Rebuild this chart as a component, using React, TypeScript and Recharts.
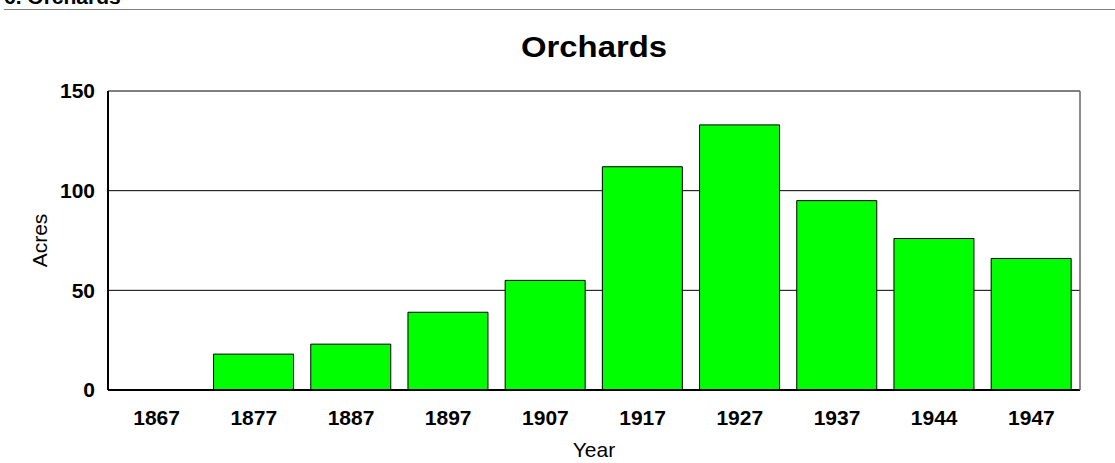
import React from 'react';
import { BarChart, Bar, XAxis, YAxis, CartesianGrid, Label } from 'recharts';

const years = ['1867', '1877', '1887', '1897', '1907', '1917', '1927', '1937', '1944', '1947'];
const acres = [0, 18, 23, 39, 55, 112, 133, 95, 76, 66];
const yTicks = [0, 50, 100, 150];

const headerText = '6. Orchards';
const chartTitle = 'Orchards';
const xTitle = 'Year';
const yTitle = 'Acres';

const data = years.map((y, i) => ({ year: y, acres: acres[i] }));

const FONT = '"Liberation Sans", Arial, Helvetica, sans-serif';

const YLabel = (props: any) => {
  const vb = props.viewBox || { x: 0, y: 91, width: 108, height: 299 };
  const cx = vb.x + 39;
  const cy = vb.y + vb.height / 2;
  return (
    <text
      x={cx}
      y={cy}
      transform={`rotate(-90, ${cx}, ${cy})`}
      textAnchor="middle"
      dominantBaseline="central"
      fontFamily={FONT}
      fontSize={21}
      fill="#000"
    >
      {yTitle}
    </text>
  );
};

export default function App() {
  return (
    <div style={{ position: 'absolute', left: 0, top: 0, width: 1115, height: 463, background: '#fff' }}>
      <BarChart
        width={1115}
        height={463}
        data={data}
        margin={{ top: 91, right: 34, left: 0, bottom: 0 }}
        barCategoryGap="8.6%"
      >
        <CartesianGrid vertical={false} stroke="#000" strokeWidth={1} />
        <XAxis
          dataKey="year"
          height={73}
          tickLine={false}
          tickSize={6}
          tickMargin={14}
          axisLine={{ stroke: '#000', strokeWidth: 2 }}
          tick={{ fontFamily: FONT, fontSize: 21, fontWeight: 'bold', fill: '#000' }}
          interval={0}
        >
          <Label value={xTitle} position="insideBottom" offset={6} style={{ fontFamily: FONT, fontSize: 21, fill: '#000' }} />
        </XAxis>
        <YAxis
          width={108}
          domain={[0, 150]}
          ticks={yTicks}
          tickLine={false}
          tickSize={6}
          tickMargin={7}
          axisLine={{ stroke: '#000', strokeWidth: 2 }}
          tick={{ fontFamily: FONT, fontSize: 21, fontWeight: 'bold', fill: '#000' }}
          interval={0}
        >
          <Label content={YLabel} />
        </YAxis>
        <YAxis
          yAxisId="right"
          orientation="right"
          width={1}
          domain={[0, 150]}
          tick={false}
          tickLine={false}
          axisLine={{ stroke: '#666', strokeWidth: 1.5 }}
        />
        <Bar dataKey="acres" fill="#00ff00" stroke="#000" strokeWidth={1} isAnimationActive={false} />
      </BarChart>
      <svg
        width={1115}
        height={463}
        style={{ position: 'absolute', left: 0, top: 0, pointerEvents: 'none' }}
      >
        <text x={4} y={4} fontFamily={FONT} fontSize={21} fontWeight="bold" fill="#000">
          {headerText}
        </text>
        <line x1={4} x2={1115} y1={9.5} y2={9.5} stroke="#808080" strokeWidth={1} />
        <text
          x={594}
          y={56.7}
          textAnchor="middle"
          fontFamily={FONT}
          fontSize={29}
          fontWeight="bold"
          fill="#000"
          textLength={146}
          lengthAdjust="spacingAndGlyphs"
        >
          {chartTitle}
        </text>
      </svg>
    </div>
  );
}
